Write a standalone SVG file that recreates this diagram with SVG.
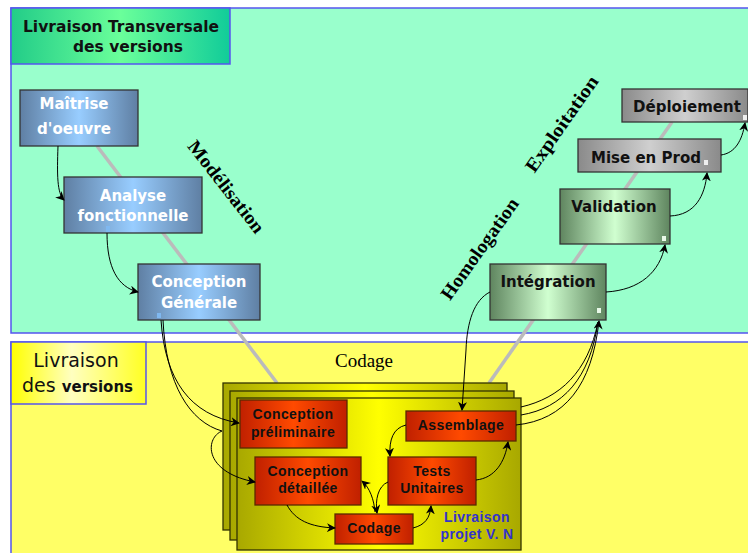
<svg xmlns="http://www.w3.org/2000/svg" width="748" height="553" viewBox="0 0 748 553">
<defs>
<linearGradient id="gBlue" x1="0" y1="0" x2="1" y2="0">
<stop offset="0" stop-color="#5f7fa3"/><stop offset="0.5" stop-color="#98cdff"/><stop offset="1" stop-color="#5f7fa3"/>
</linearGradient>
<linearGradient id="gGray" x1="0" y1="0" x2="1" y2="0">
<stop offset="0" stop-color="#8a8a8a"/><stop offset="0.5" stop-color="#cfcfcf"/><stop offset="1" stop-color="#8a8a8a"/>
</linearGradient>
<linearGradient id="gGreen" x1="0" y1="0" x2="1" y2="0">
<stop offset="0" stop-color="#5f855f"/><stop offset="0.5" stop-color="#d0ffd0"/><stop offset="1" stop-color="#5f855f"/>
</linearGradient>
<linearGradient id="gRed" x1="0" y1="0" x2="1" y2="0">
<stop offset="0" stop-color="#c02000"/><stop offset="0.5" stop-color="#ff4a00"/><stop offset="1" stop-color="#c02000"/>
</linearGradient>
<linearGradient id="gOlive" x1="0" y1="0" x2="1" y2="0">
<stop offset="0" stop-color="#a8a800"/><stop offset="0.5" stop-color="#ffff00"/><stop offset="1" stop-color="#a8a800"/>
</linearGradient>
<linearGradient id="gTitle" x1="0" y1="0" x2="1" y2="0">
<stop offset="0" stop-color="#22cc88"/><stop offset="0.5" stop-color="#6aff9a"/><stop offset="1" stop-color="#11cc99"/>
</linearGradient>
<linearGradient id="gYTitle" x1="0" y1="0" x2="1" y2="0">
<stop offset="0" stop-color="#ffff00"/><stop offset="0.45" stop-color="#ffffc0"/><stop offset="1" stop-color="#ffff22"/>
</linearGradient>
<marker id="arr" viewBox="0 0 10 10" refX="9" refY="5" markerWidth="9" markerHeight="9" markerUnits="userSpaceOnUse" orient="auto">
<path d="M0,0 L10,5 L0,10 L3,5 z" fill="#000"/>
</marker>
<style>
.panel{stroke:#5555ee;stroke-width:1.5}
.box{stroke:#333;stroke-width:1.3}
.red{fill:url(#gRed);stroke:#5a2a00;stroke-width:1.3}
.stack{fill:url(#gOlive);stroke:#333300;stroke-width:1.3}
.wt{font-family:"DejaVu Sans",sans-serif;font-weight:bold;font-size:15px;fill:#fff;text-anchor:middle}
.bt{font-family:"DejaVu Sans",sans-serif;font-weight:bold;font-size:15px;fill:#111;text-anchor:middle}
.rt{font-family:"Liberation Sans",Arial,sans-serif;font-weight:bold;font-size:14px;letter-spacing:0.4px;fill:#111;text-anchor:middle}
.lab{font-family:"Liberation Serif","Times New Roman",serif;font-weight:bold;font-size:19px;fill:#000;text-anchor:middle}
.con{fill:none;stroke:#000;stroke-width:1}
.conA{fill:none;stroke:#000;stroke-width:1;marker-end:url(#arr)}
.gray{stroke:#bbbbbb;stroke-width:3.5;fill:none}
.dot{stroke:none}
</style>
</defs>
<rect x="0" y="0" width="748" height="553" fill="#fff"/>
<g id="panel-transversale">
<rect class="panel" x="11" y="8" width="760" height="325" fill="#99ffcc"/>
</g>
<g id="panel-versions">
<rect class="panel" x="11" y="342" width="760" height="230" fill="#ffff66"/>
</g>
<g id="backlines">
<line class="gray" x1="97" y1="146" x2="277" y2="383"/>
<line class="gray" x1="489" y1="383" x2="672" y2="122"/>
</g>
<g id="title-transversale">
<rect class="panel" x="11" y="8" width="219" height="56" fill="url(#gTitle)"/>
<text x="121" y="32" style="font-family:'DejaVu Sans',sans-serif;font-weight:bold;font-size:15.5px;text-anchor:middle;fill:#111">Livraison Transversale</text>
<text x="128" y="52" style="font-family:'DejaVu Sans',sans-serif;font-weight:bold;font-size:15.5px;text-anchor:middle;fill:#111">des versions</text>
</g>
<g id="title-versions">
<rect class="panel" x="11" y="342" width="135" height="62" fill="url(#gYTitle)"/>
<text x="76" y="367" style="font-family:'DejaVu Sans',sans-serif;font-size:19px;text-anchor:middle;fill:#111">Livraison</text>
<text x="22" y="392" style="font-family:'DejaVu Sans',sans-serif;font-size:19px;fill:#111">des <tspan style="font-weight:bold;font-size:15px">versions</tspan></text>
</g>
<g id="label-modelisation"><text class="lab" transform="translate(226,187) rotate(52)" y="6" textLength="112" lengthAdjust="spacingAndGlyphs">Modélisation</text></g>
<g id="label-homologation"><text class="lab" transform="translate(480,249) rotate(-54.5)" y="6" textLength="120" lengthAdjust="spacingAndGlyphs">Homologation</text></g>
<g id="label-exploitation"><text class="lab" transform="translate(562,124) rotate(-55)" y="6" textLength="113" lengthAdjust="spacingAndGlyphs">Exploitation</text></g>
<g id="label-codage"><text x="364" y="367" style="font-family:'Liberation Serif','Times New Roman',serif;font-size:19px;text-anchor:middle;fill:#000">Codage</text></g>
<g id="maitrise">
<rect class="box" x="20" y="90" width="118" height="56" fill="url(#gBlue)"/>
<text class="wt" x="74" y="109">Maîtrise</text>
<text class="wt" x="74" y="134">d'oeuvre</text>
</g>
<g id="analyse">
<rect class="box" x="64" y="177" width="138" height="56" fill="url(#gBlue)"/>
<text class="wt" x="133" y="201">Analyse</text>
<text class="wt" x="133" y="221">fonctionnelle</text>
<rect class="dot" x="106" y="226" width="4" height="6" fill="#7fb8f0"/>
</g>
<g id="conception-generale">
<rect class="box" x="138" y="264" width="122" height="56" fill="url(#gBlue)"/>
<text class="wt" x="199" y="287">Conception</text>
<text class="wt" x="199" y="308">Générale</text>
<rect class="dot" x="157" y="313" width="4" height="5" fill="#7fb8f0"/>
</g>
<g id="integration">
<rect class="box" x="490" y="264" width="116" height="56" fill="url(#gGreen)"/>
<text class="bt" x="548" y="287">Intégration</text>
<rect class="dot" x="597" y="308" width="4" height="5" fill="#e8f8e8"/>
</g>
<g id="validation">
<rect class="box" x="560" y="189" width="110" height="55" fill="url(#gGreen)"/>
<text class="bt" x="614" y="212">Validation</text>
<rect class="dot" x="662" y="236" width="4" height="5" fill="#e8f8e8"/>
</g>
<g id="mise-en-prod">
<rect class="box" x="578" y="139" width="143" height="33" fill="url(#gGray)"/>
<text class="bt" x="646" y="163">Mise en Prod</text>
<rect class="dot" x="704" y="160" width="4" height="5" fill="#eeeeee"/>
</g>
<g id="deploiement">
<rect class="box" x="622" y="89" width="126" height="33" fill="url(#gGray)"/>
<text class="bt" x="687" y="112">Déploiement</text>
<rect class="dot" x="743" y="115" width="4" height="5" fill="#eeeeee"/>
</g>
<g id="livraison-projet">
<rect class="stack" x="223" y="383" width="284" height="147"/>
<rect class="stack" x="230" y="391" width="284" height="149"/>
<rect class="stack" x="237" y="398" width="284" height="152"/>
<text x="477" y="522" style="font-family:'Liberation Sans',Arial,sans-serif;font-weight:bold;font-size:14px;letter-spacing:0.4px;fill:#3333cc;text-anchor:middle">Livraison</text>
<text x="477" y="539" style="font-family:'Liberation Sans',Arial,sans-serif;font-weight:bold;font-size:14px;letter-spacing:0.4px;fill:#3333cc;text-anchor:middle">projet V. N</text>
</g>
<g id="conception-preliminaire">
<rect class="red" x="240" y="400" width="107" height="48"/>
<text class="rt" x="293" y="419">Conception</text>
<text class="rt" x="293" y="437">préliminaire</text>
</g>
<g id="conception-detaillee">
<rect class="red" x="255" y="457" width="106" height="48"/>
<text class="rt" x="308" y="476">Conception</text>
<text class="rt" x="308" y="493">détaillée</text>
</g>
<g id="codage">
<rect class="red" x="335" y="514" width="78" height="30"/>
<text class="rt" x="374" y="533">Codage</text>
</g>
<g id="tests-unitaires">
<rect class="red" x="388" y="457" width="88" height="48"/>
<text class="rt" x="432" y="476">Tests</text>
<text class="rt" x="432" y="493">Unitaires</text>
</g>
<g id="assemblage">
<rect class="red" x="406" y="411" width="110" height="30"/>
<text class="rt" x="461" y="430">Assemblage</text>
</g>
<g id="connectors">
<path class="conA" d="M58,146 C57,175 57,193 64,200"/>
<path class="conA" d="M107,233 C107,268 118,287 138,292"/>
<path class="conA" d="M161,320 C165,380 190,415 239,423"/>
<path class="con" d="M163,320 C166,385 190,422 222,431"/>
<path class="conA" d="M222,431 C205,438 203,472 255,482"/>
<path class="conA" d="M287,505 C295,520 310,527 335,528"/>
<path class="conA" d="M388,482 C378,486 375,500 377,513"/>
<path class="conA" d="M375,512 C374,500 370,488 362,481"/>
<path class="conA" d="M413,528 C425,525 430,518 431,506"/>
<path class="conA" d="M476,480 C495,478 505,462 508,442"/>
<path class="conA" d="M406,425 C393,428 389,440 390,456"/>
<path class="conA" d="M490,292 C474,300 467,322 466,350 L462,410"/>
<path class="con" d="M521,407 C560,398 588,372 598,322"/>
<path class="con" d="M521,415 C563,408 590,378 598,322"/>
<path class="conA" d="M516,425 C565,420 592,385 599,321"/>
<path class="conA" d="M606,292 C640,290 660,272 665,245"/>
<path class="conA" d="M670,216 C695,215 705,196 707,173"/>
<path class="conA" d="M721,155 C735,153 742,141 745,123"/>
</g>
</svg>
